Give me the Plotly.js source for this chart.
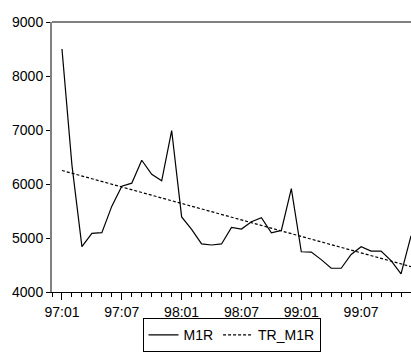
<!DOCTYPE html>
<html>
<head>
<meta charset="utf-8">
<script src="https://cdn.plot.ly/plotly-3.0.1.min.js"></script>
<style>
  html, body { margin: 0; padding: 0; background: #fff; }
  #chart { width: 411px; height: 354px; }
</style>
</head>
<body>
<div id="chart"></div>
<script>
// Monthly periods, 1997:01 – 1999:12
const months = [
  '97:01','97:02','97:03','97:04','97:05','97:06','97:07','97:08','97:09','97:10','97:11','97:12',
  '98:01','98:02','98:03','98:04','98:05','98:06','98:07','98:08','98:09','98:10','98:11','98:12',
  '99:01','99:02','99:03','99:04','99:05','99:06','99:07','99:08','99:09','99:10','99:11','99:12'
];

// Real M1 money balance
const m1r = [
  8500, 6350, 4840, 5085, 5100, 5590, 5960, 6015, 6440, 6180, 6060, 6990,
  5390, 5160, 4890, 4870, 4890, 5195, 5165, 5300, 5375, 5095, 5140, 5915,
  4745, 4740, 4600, 4440, 4440, 4695, 4837, 4758, 4758, 4580, 4335, 5040
];

// Linear trend of M1R: values at the first and last period
const trendPeriods = ['97:01', '99:12'];
const trendValues = [6250, 4470];

// Labelled ticks every six months
const tickLabels = ['97:01', '97:07', '98:01', '98:07', '99:01', '99:07'];

const idx = label => months.indexOf(label);

const traces = [
  {
    x: months.map((_, i) => i),
    y: m1r,
    name: 'M1R',
    type: 'scatter',
    mode: 'lines',
    line: { color: '#000', width: 1.2 }
  },
  {
    x: trendPeriods.map(idx),
    y: trendValues,
    name: 'TR_M1R',
    type: 'scatter',
    mode: 'lines',
    line: { color: '#000', width: 1.2, dash: '3px,2px' }
  }
];

const layout = {
  width: 411,
  height: 354,
  margin: { l: 52, r: 0, t: 22, b: 62, autoexpand: false },
  paper_bgcolor: '#fff',
  plot_bgcolor: '#fff',
  font: { family: 'Liberation Sans, Arial, sans-serif', size: 14, color: '#000' },
  showlegend: true,
  legend: {
    orientation: 'h',
    x: 0.5, xanchor: 'center',
    yref: 'container', y: 0.005, yanchor: 'bottom',
    bordercolor: '#000', borderwidth: 1,
    font: { size: 14 },
    itemwidth: 30,
    tracegroupgap: 0
  },
  xaxis: {
    range: [-1, 35],
    tickvals: tickLabels.map(idx),
    ticktext: tickLabels,
    ticks: 'outside', ticklen: 7, tickwidth: 1, tickcolor: '#000',
    minor: { dtick: 1, tick0: 0, ticks: 'outside', ticklen: 4, tickwidth: 1, tickcolor: '#000', showgrid: false },
    showline: true, linecolor: '#000', linewidth: 1,
    showgrid: false, zeroline: false,
    fixedrange: true
  },
  yaxis: {
    range: [4000, 9000],
    dtick: 1000,
    ticks: 'outside', ticklen: 4, tickwidth: 1, tickcolor: '#000',
    showline: true, linecolor: '#808080', linewidth: 2,
    showgrid: false, zeroline: false,
    fixedrange: true
  },
  shapes: [
    // frame top edge
    { type: 'line', xref: 'paper', yref: 'paper', x0: 0, x1: 1, y0: 1, y1: 1,
      line: { color: '#808080', width: 2 } }
  ]
};

Plotly.newPlot('chart', traces, layout, { displayModeBar: false, staticPlot: true });
</script>
</body>
</html>
